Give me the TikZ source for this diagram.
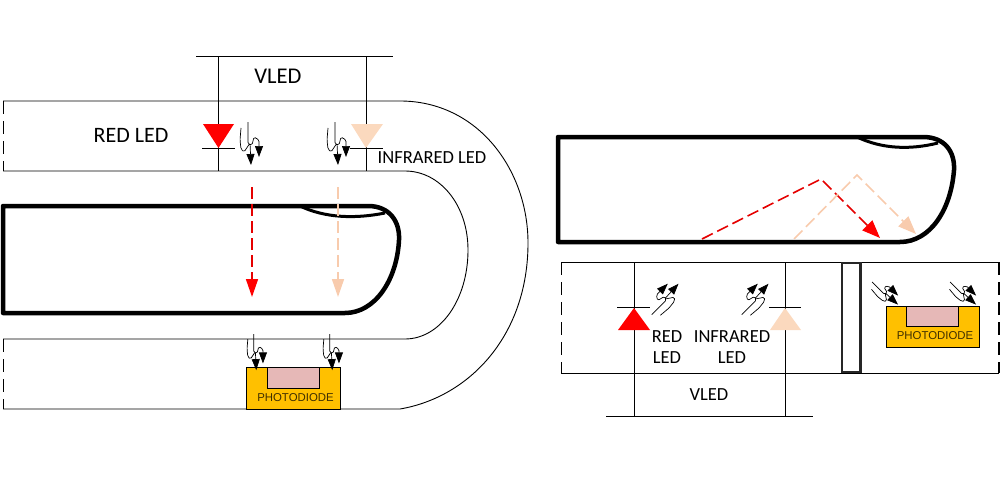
\documentclass[tikz,border=0pt]{standalone}
\usepackage{fontspec}
\setmainfont{Carlito}
\newfontfamily\pdfont{Liberation Sans}
\usetikzlibrary{arrows.meta}
\definecolor{peach}{HTML}{F8CBAD}
\definecolor{peachled}{HTML}{FBD9BE}
\definecolor{pdgold}{HTML}{FFC000}
\definecolor{pdpink}{HTML}{E6B8B7}
\tikzset{
 wire/.style={line width=1pt,black},
 band/.style={line width=.9pt,black},
 sidedash/.style={line width=1.4pt,black,dash pattern=on 13pt off 7pt},
 finger/.style={line width=4.5pt,black,line join=round},
 nail/.style={line width=3pt,black},
 rayred/.style={line width=1.6pt,red!90!black,dash pattern=on 12pt off 5pt,-{Triangle[length=18pt,width=12pt,fill=red,color=red]}},
 raypeach/.style={line width=1.6pt,peach,dash pattern=on 12pt off 5pt,-{Triangle[length=18pt,width=12pt,fill=peach,color=peach]}},
 lbl/.style={inner sep=0pt,font=\fontsize{#1}{#1}\selectfont,align=center},
 pdlbl/.style={inner sep=0pt,font=\pdfont\fontsize{11.4}{12}\selectfont,text=black!75!pdgold},
 pdbase/.style={draw=black,line width=1pt,fill=pdgold},
 pdwin/.style={draw=black,line width=1pt,fill=pdpink},
 zz/.style={line width=.7pt,black,rounded corners=1.5pt,-{Triangle[length=11pt,width=8pt]}},
 lightpair/.pic={
  \draw[zz] (1,6) -- (0,18) -- (1,27) -- (4,30) -- (10,21) -- (11,43);
  \draw[zz] (8,0) -- (8,22) -- (12,23) -- (14,15) -- (19,18) -- (19,35);
 }
}
\begin{document}
\begin{tikzpicture}[x=1pt,y=-1pt]
\useasboundingbox (0,0) rectangle (1000,500);
% ---- left: band
\coordinate (bo1) at (400,101);
\coordinate (bo2) at (400,409);
\coordinate (bi1) at (405,171);
\coordinate (bi2) at (405,339);
\draw[band] (3,101) -- (bo1) .. controls (478,101) and (528,170) .. (528,243) .. controls (528,335) and (470,397) .. (bo2) -- (3,409);
\draw[band] (3,171) -- (bi1) .. controls (440,171) and (468,205) .. (468,250) .. controls (468,300) and (440,339) .. (bi2) -- (3,339);
\draw[sidedash] (3.5,101) -- (3.5,171);
\draw[sidedash] (3.5,339) -- (3.5,409);
% ---- left: VLED wires
\coordinate (vt1) at (218.5,57);
\coordinate (vt2) at (366,57);
\coordinate (vb1) at (218.5,171);
\coordinate (vb2) at (366,171);
\draw[wire] (196,57) -- (393,57);
\draw[wire] (vt1) -- (vb1);
\draw[wire] (vt2) -- (vb2);
\node[lbl=22.5] (vledl) at (278,76) {VLED};
\node[lbl=22] (redl) at (131,135) {RED LED};
\node[lbl=18.5] (irl) at (432,158) {INFRARED LED};
% LEDs
\fill[red] (203,124) -- (234,124) -- (218.5,148) -- cycle;
\draw[wire] (202,148) -- (234.5,148);
\fill[peachled] (351,124) -- (383,124) -- (366,148) -- cycle;
\draw[wire] (350,148) -- (383,148);
\pic at (240,122) {lightpair};
\pic at (327,122) {lightpair};
% ---- left finger
\draw[finger] (3,206) -- (368,206) .. controls (390,206) and (400,222) .. (399,240) .. controls (397,280) and (375,313) .. (345,313) -- (3,313) -- cycle;
\draw[nail] (300,206) .. controls (325,218) and (355,219) .. (385,213);
\draw[rayred] (252,187) -- (252,297);
\draw[raypeach] (338,187) -- (338,297);
% photodiode left
\draw[pdbase] (246.5,367) rectangle (340.5,409);
\draw[pdwin] (267.5,367) rectangle (319.5,388.5);
\node[pdlbl] (pdl) at (295.5,398) {PHOTODIODE};
\pic[scale=.84] at (247,334) {lightpair};
\pic[scale=.84] at (323,334) {lightpair};
% ---- right finger
\draw[finger] (558,137) -- (923,137) .. controls (945,137) and (955,152) .. (954,170) .. controls (951,210) and (930,242) .. (900,242) -- (558,242) -- cycle;
\draw[nail] (857,137) .. controls (882,149) and (910,150) .. (938,143);
\draw[line width=1.6pt,red!90!black,dash pattern=on 12pt off 5pt,-{Triangle[length=18pt,width=14pt,fill=red,color=red]}] (702,239) -- (821,179) -- (880,238);
\draw[line width=1.6pt,peach,dash pattern=on 12pt off 5pt,-{Triangle[length=18pt,width=14pt,fill=peach,color=peach]}] (794,239) -- (857,175) -- (916,234);
% ---- right band
\draw[band] (561,262) -- (999,262);
\draw[band] (561,373) -- (999,373);
\draw[sidedash] (561.5,262) -- (561.5,373);
\draw[sidedash] (999,262) -- (999,373);
\coordinate (rv1) at (634,262);
\coordinate (rv2) at (785,262);
\coordinate (rb1) at (634,416);
\coordinate (rb2) at (785,416);
\draw[wire] (rv1) -- (rb1);
\draw[wire] (rv2) -- (rb2);
\draw[wire] (606,416) -- (813,416);
\node[lbl=18.5] (vledr) at (709,395) {VLED};
\node[lbl=18.5] (redr) at (667,347) {RED\\[3pt]LED};
\node[lbl=18.5] (irr) at (732,347) {INFRARED\\[3pt]LED};
\fill[red] (618,330) -- (650,330) -- (634,308) -- cycle;
\draw[wire] (617,307.5) -- (649.5,307.5);
\fill[peachled] (770,330) -- (801,330) -- (785,308) -- cycle;
\draw[wire] (769,307.5) -- (801,307.5);
\pic[scale=.95,rotate=135] at (657,320) {lightpair};
\pic[scale=.95,rotate=135] at (747,320) {lightpair};
\draw[line width=2.4pt,black!85] (842,263) rectangle (860.5,372);
% photodiode right
\draw[pdbase] (886,306) rectangle (979.5,347.5);
\draw[pdwin] (906.5,306) rectangle (958.5,326.5);
\node[pdlbl] (pdr) at (935,336) {PHOTODIODE};
\pic[scale=.8,rotate=45] at (867.5,286.5) {lightpair};
\pic[scale=.8,rotate=45] at (945.5,286.5) {lightpair};
\end{tikzpicture}
\end{document}
